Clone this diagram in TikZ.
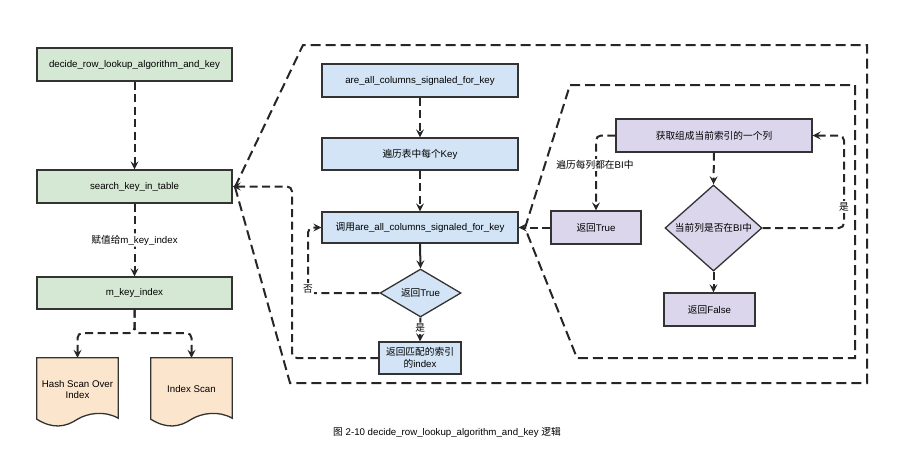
\documentclass[tikz,border=0pt]{standalone}
\usepackage{fontspec}
\setmainfont{Liberation Sans}
\newfontfamily\cjk{Noto Sans CJK SC}
\newcommand{\zh}[1]{{\cjk #1}}
\newcommand{\fs}{\fontsize{9.7}{11.6}\selectfont}
\usetikzlibrary{shapes.geometric,arrows.meta,calc}
\definecolor{gfill}{HTML}{D5E8D4}
\definecolor{bfill}{HTML}{D2E4F5}
\definecolor{pfill}{HTML}{DCD6EC}
\definecolor{ofill}{HTML}{FCE5CD}
\definecolor{strokec}{HTML}{333333}
\definecolor{linec}{HTML}{262626}
\begin{document}
\begin{tikzpicture}[x=1pt,y=-1pt,
  box/.style={draw=strokec, line width=1.3pt, minimum height=33pt, inner sep=0pt, font=\fs, align=center},
  gbox/.style={box, fill=gfill, minimum width=195pt},
  bbox/.style={box, fill=bfill, minimum width=196pt},
  pbox/.style={box, fill=pfill},
  dia/.style={diamond, draw=strokec, line width=1.3pt, inner sep=0pt, font=\fs, align=center},
  tip/.style={-{Stealth[length=8pt,width=8pt,inset=3pt]}},
  conn/.style={draw=linec, line width=2pt, dash pattern=on 8pt off 4.5pt, rounded corners=5pt, tip},
  sconn/.style={draw=linec, line width=2pt, tip},
  callout/.style={draw=linec, line width=2pt, dash pattern=on 10pt off 5pt},
  docshape/.style={draw=strokec, line width=1.3pt, fill=ofill},
  lab/.style={fill=white, inner sep=1.5pt, font=\fs}
]
\useasboundingbox (0,0) rectangle (907,469);

% callouts
\draw[callout] (235,187) -- (303,45) -- (867,45) -- (867,383) -- (290,383) -- cycle;
\draw[callout] (525,228) -- (570,85) -- (855,85) -- (855,358) -- (577,358) -- cycle;

% left column
\node[gbox] (decide) at (134.5,64.5) {decide\_row\_lookup\_algorithm\_and\_key};
\node[gbox] (search) at (134.5,186.5) {search\_key\_in\_table};
\node[gbox, minimum height=32pt] (mkey) at (134.5,293) {m\_key\_index};

\node[minimum width=81pt, minimum height=69pt, inner sep=0pt] (hash) at (77.5,392.5) {};
\node[minimum width=81pt, minimum height=69pt, inner sep=0pt] (idx) at (191.5,392.5) {};
\foreach \n in {hash,idx}{
  \draw[docshape] (\n.north west) -- (\n.north east) -- ($(\n.south east)+(0,-9)$)
    .. controls ($(\n.south east)+(-14,-17)$) and ($(\n.south)+(10,-14)$) .. ($(\n.south)+(0,-8)$)
    .. controls ($(\n.south)+(-12,0)$) and ($(\n.south west)+(16,2)$) .. ($(\n.south west)+(0,-8)$) -- cycle;
}
\node[font=\fs, align=center] (hashtxt) at ($(hash.center)+(0,-3)$) {Hash Scan Over\\Index};
\node[font=\fs, align=center] (idxtxt) at ($(idx.center)+(0,-3)$) {Index Scan};

% middle column
\node[bbox] (areall) at (420,80.5) {are\_all\_columns\_signaled\_for\_key};
\node[bbox, minimum height=32pt] (bianli) at (420,154) {\zh{遍历表中每个}Key};
\node[bbox, minimum height=31pt] (diaoyong) at (420,227.5) {\zh{调用}are\_all\_columns\_signaled\_for\_key};
\node[dia, fill=bfill, minimum width=81pt, minimum height=48pt] (d1) at (420.5,293) {\zh{返回}True};
\node[box, fill=bfill, minimum width=82pt, minimum height=32pt] (retmatch) at (420,358) {\zh{返回匹配的索引}\\\zh{的}index};

% right column
\node[pbox, minimum width=196pt] (huoqu) at (714,135.5) {\zh{获取组成当前索引的一个列}};
\node[pbox, minimum width=90pt] (rettrue) at (596,227.5) {\zh{返回}True};
\node[dia, fill=pfill, minimum width=97pt, minimum height=64pt] (d2) at (713.5,228) {\zh{当前列是否在}BI\zh{中}};
\node[pbox, minimum width=91pt] (retfalse) at (709.5,309.5) {\zh{返回}False};

% left connectors
\draw[conn] (decide.south) -- (search.north);
\draw[conn] (search.south) -- node[lab] (l1) {\zh{赋值给}m\_key\_index} (mkey.north);
\coordinate (split) at (134.5,333);
\draw[conn] (mkey.south) -- (split) -| (hash.north);
\draw[conn] (mkey.south) -- (split) -| (idx.north);

% middle connectors
\draw[conn] (areall.south) -- (bianli.north);
\draw[conn] (bianli.south) -- (diaoyong.north);
\draw[sconn] (diaoyong.south) -- (d1.north);
\draw[conn] (d1.south) -- node[lab, pos=0.45] (lshi1) {\zh{是}} (retmatch.north);
\coordinate (nocorner) at (308,293);
\draw[conn] (d1.west) -- (nocorner) |- (diaoyong.west);
\node[lab] (lfou) at (308,289) {\zh{否}};
\coordinate (backc) at (292,186.5);
\draw[conn] (retmatch.west) -| (backc) -- (search.east);

% right connectors
\draw[conn] (huoqu.west) -| (rettrue.north);
\node[lab] (lbl) at (595,165) {\zh{遍历每列都在}BI\zh{中}};
\draw[conn] (huoqu.south) -- (d2.north);
\draw[conn] (d2.south) -- (d2.south |- retfalse.north);
\coordinate (yesc) at (844,228);
\draw[conn] (d2.east) -- (yesc) |- (huoqu.east);
\node[lab] (lshi2) at (844,207) {\zh{是}};
\draw[conn] (rettrue.west) -- (diaoyong.east);

% caption
\node[font=\fs] (cap) at (447,432) {\zh{图} 2-10 decide\_row\_lookup\_algorithm\_and\_key \zh{逻辑}};
\end{tikzpicture}
\end{document}
